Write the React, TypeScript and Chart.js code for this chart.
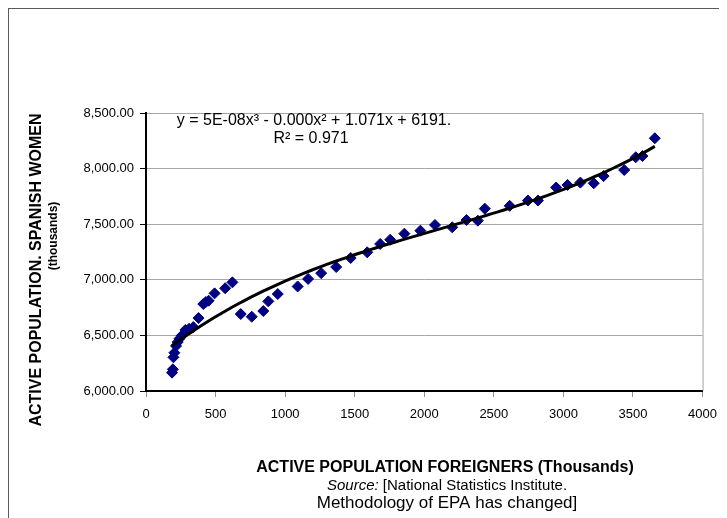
import React, { useEffect, useRef } from "react";
import { Chart, registerables } from "chart.js";

Chart.register(...registerables);

// Active population of foreigners (thousands) – x values
const foreignX = [
  187, 193, 197, 204, 216, 228, 240, 258, 283, 310,
  340, 378, 412, 430, 450, 493, 569, 621, 681, 760,
  843, 879, 947, 1090, 1165, 1259, 1367, 1471, 1590, 1683,
  1755, 1857, 1972, 2077, 2201, 2304, 2385, 2435, 2614, 2745,
  2817, 2948, 3030, 3122, 3218, 3289, 3437, 3520, 3568, 3657,
];
// Active population of Spanish women (thousands) – y values
const womenY = [
  6165, 6195, 6303, 6344, 6405, 6440, 6470, 6500, 6549, 6560,
  6575, 6656, 6782, 6800, 6812, 6878, 6924, 6977, 6692, 6668,
  6719, 6806, 6872, 6940, 7008, 7060, 7115, 7196, 7247, 7322,
  7360, 7415, 7442, 7493, 7472, 7538, 7532, 7640, 7665, 7713,
  7713, 7830, 7853, 7874, 7868, 7933, 7987, 8102, 8113, 8273,
];

const X_MIN = 0;
const X_MAX = 4000;
const X_STEP = 500;
const Y_MIN = 6000;
const Y_MAX = 8500;
const Y_STEP = 500;

const EQUATION_TEXT = "y = 5E-08x\u00b3 - 0.000x\u00b2 + 1.071x + 6191.";
const R2_TEXT = "R\u00b2 = 0.971";
const Y_TITLE_1 = "ACTIVE POPULATION. SPANISH WOMEN";
const Y_TITLE_2 = "(thousands)";
const X_TITLE = "ACTIVE POPULATION FOREIGNERS (Thousands)";
const SOURCE_LABEL = "Source:";
const SOURCE_REST = " [National Statistics Institute.";
const SOURCE_LINE_2 = "Methodology of EPA has changed]";

const FONT = "'Liberation Sans', Arial, sans-serif";

// least-squares cubic fit (like the spreadsheet's polynomial trendline)
function cubicFit(xs: number[], ys: number[]): number[] {
  const n = 4;
  const s = 1000; // scale x for numerical stability
  const A: number[][] = Array.from({ length: n }, () => new Array(n + 1).fill(0));
  for (let k = 0; k < xs.length; k++) {
    const x = xs[k] / s;
    const pw = [1, x, x * x, x * x * x];
    for (let i = 0; i < n; i++) {
      for (let j = 0; j < n; j++) A[i][j] += pw[i] * pw[j];
      A[i][n] += pw[i] * ys[k];
    }
  }
  for (let i = 0; i < n; i++) {
    let p = i;
    for (let r = i + 1; r < n; r++) if (Math.abs(A[r][i]) > Math.abs(A[p][i])) p = r;
    [A[i], A[p]] = [A[p], A[i]];
    for (let r = 0; r < n; r++) {
      if (r === i) continue;
      const f = A[r][i] / A[i][i];
      for (let c = i; c <= n; c++) A[r][c] -= f * A[i][c];
    }
  }
  const coef = A.map((row, i) => row[n] / row[i]);
  return coef.map((c, i) => c / Math.pow(s, i));
}

export default function App() {
  const ref = useRef<HTMLCanvasElement | null>(null);

  useEffect(() => {
    if (!ref.current) return;
    const pts = foreignX.map((x, i) => ({ x, y: womenY[i] }));
    const coef = cubicFit(foreignX, womenY);
    const lo = Math.min(...foreignX);
    const hi = Math.max(...foreignX);
    const trend: { x: number; y: number }[] = [];
    const N = 80;
    for (let i = 0; i <= N; i++) {
      const x = lo + ((hi - lo) * i) / N;
      const y = coef[0] + coef[1] * x + coef[2] * x * x + coef[3] * x * x * x;
      trend.push({ x, y });
    }

    const textPlugin = {
      id: "texts",
      beforeDatasetsDraw(chart: any) {
        const { ctx, chartArea } = chart;
        ctx.save();
        ctx.strokeStyle = "#a0a0a0";
        ctx.lineWidth = 1;
        ctx.beginPath();
        ctx.moveTo(chartArea.right + 0.5, chartArea.top);
        ctx.lineTo(chartArea.right + 0.5, chartArea.bottom);
        ctx.stroke();
        ctx.restore();
      },
      afterDraw(chart: any) {
        const { ctx } = chart;
        ctx.save();
        ctx.fillStyle = "#000";
        ctx.textBaseline = "middle";
        ctx.textAlign = "center";
        ctx.font = `16px ${FONT}`;
        ctx.fillText(EQUATION_TEXT, 305, 112);
        ctx.fillText(R2_TEXT, 302, 130);

        // x title
        ctx.font = `bold 16px ${FONT}`;
        ctx.fillText(X_TITLE, 436, 459);
        // source
        ctx.font = `italic 15px ${FONT}`;
        const w1 = ctx.measureText(SOURCE_LABEL).width;
        ctx.font = `15px ${FONT}`;
        const w2 = ctx.measureText(SOURCE_REST).width;
        const start = 438 - (w1 + w2) / 2;
        ctx.textAlign = "left";
        ctx.font = `italic 15px ${FONT}`;
        ctx.fillText(SOURCE_LABEL, start, 477);
        ctx.font = `15px ${FONT}`;
        ctx.fillText(SOURCE_REST, start + w1, 477);
        ctx.textAlign = "center";
        ctx.font = `17px ${FONT}`;
        ctx.fillText(SOURCE_LINE_2, 438, 494);

        // y title
        ctx.save();
        ctx.translate(28, 261);
        ctx.rotate(-Math.PI / 2);
        ctx.font = `bold 16px ${FONT}`;
        ctx.fillText(Y_TITLE_1, 0, 0);
        ctx.restore();
        ctx.save();
        ctx.translate(45, 227);
        ctx.rotate(-Math.PI / 2);
        ctx.font = `bold 12px ${FONT}`;
        ctx.fillText(Y_TITLE_2, 0, 0);
        ctx.restore();
        ctx.restore();
      },
    };

    const chart = new Chart(ref.current, {
      type: "scatter",
      data: {
        datasets: [
          {
            type: "scatter",
            data: pts,
            pointStyle: "rectRot",
            pointRadius: 5.5,
            pointHoverRadius: 5.5,
            backgroundColor: "#000080",
            borderColor: "#000080",
            borderWidth: 1,
            order: 1,
          } as any,
          {
            type: "line",
            data: trend,
            borderColor: "#000000",
            borderWidth: 3,
            pointRadius: 0,
            fill: false,
            tension: 0,
            order: 0,
          } as any,
        ],
      },
      options: {
        animation: false,
        responsive: false,
        maintainAspectRatio: false,
        layout: { padding: { left: 0, right: 22, top: 104, bottom: 0 } },
        plugins: { legend: { display: false }, tooltip: { enabled: false }, title: { display: false } },
        scales: {
          x: {
            type: "linear",
            min: X_MIN,
            max: X_MAX,
            ticks: {
              stepSize: X_STEP,
              padding: 10,
              color: "#000",
              font: { family: FONT, size: 13 },
              callback: (v: any) => String(v),
            },
            grid: { drawOnChartArea: false, tickLength: 6, color: "#909090", tickColor: "#909090" },
            border: { color: "#000", width: 2 },
            afterFit: (s: any) => {
              s.height = 127;
            },
          },
          y: {
            type: "linear",
            min: Y_MIN,
            max: Y_MAX,
            ticks: {
              stepSize: Y_STEP,
              padding: 6,
              color: "#000",
              font: { family: FONT, size: 13 },
              callback: (v: any) =>
                Number(v).toLocaleString("en-US", { minimumFractionDigits: 2, maximumFractionDigits: 2 }),
            },
            grid: { color: "#a6a6a6", tickLength: 6, tickColor: "#000" },
            border: { color: "#000", width: 2 },
            afterFit: (s: any) => {
              s.width = 137;
            },
          },
        },
      } as any,
      plugins: [textPlugin],
    });
    return () => chart.destroy();
  }, []);

  return (
    <div
      style={{
        borderLeft: "1px solid #5a5a5a",
        borderTop: "1px solid #5a5a5a",
        width: 718,
        height: 509,
        background: "#fff",
      }}
    >
      <canvas ref={ref} width={718} height={509} style={{ display: "block", width: 718, height: 509 }} />
    </div>
  );
}
